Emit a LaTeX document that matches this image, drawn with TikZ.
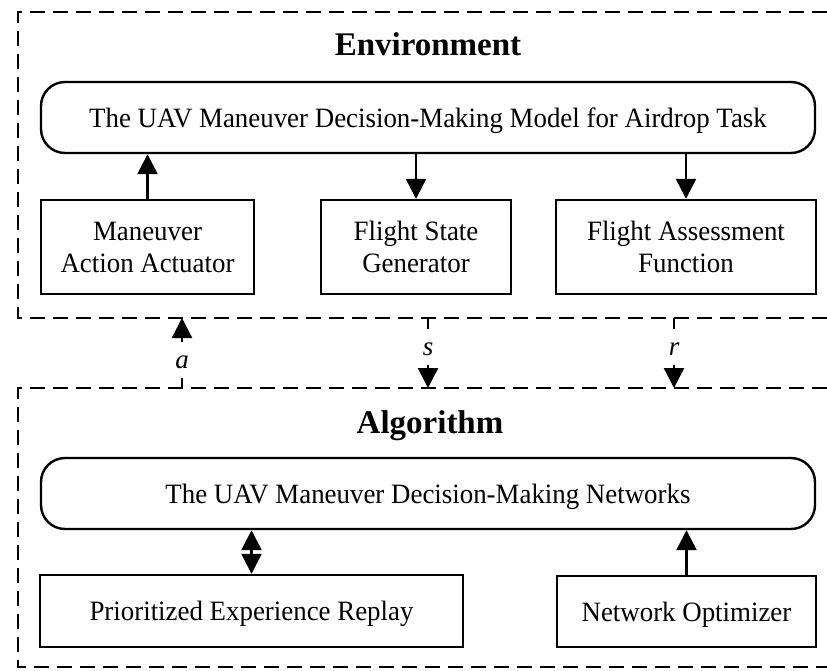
\documentclass[tikz,border=0pt]{standalone}
\usepackage{fontspec}
\setmainfont{Liberation Serif}
\newfontfamily\bodyfont[FakeStretch=0.96]{Liberation Serif}
\usetikzlibrary{arrows.meta}
\begin{document}
\begin{tikzpicture}[x=1pt,y=-1pt,
  frame/.style={draw, line width=2.4pt, dash pattern=on 15pt off 8pt},
  blk/.style={draw, line width=2.4pt, inner sep=0pt, align=center,
    font=\bodyfont\fontsize{28}{32}\selectfont},
  rblk/.style={blk, rounded corners=24pt, text depth=0pt},
  tip/.tip={Triangle[width=20pt,length=20pt]},
  tri/.style={line width=2.4pt, -tip},
  dtri/.style={line width=2.4pt, tip-tip},
  link/.style={line width=2.4pt},
  title/.style={anchor=base, inner sep=0pt, font=\bfseries\fontsize{33}{40}\selectfont},
  lbl/.style={inner sep=0pt, font=\itshape\fontsize{27}{32}\selectfont}]
\useasboundingbox (0,0) rectangle (827,670);
\clip (0,0) rectangle (827,670);

% dashed frames of the two layers
\draw[frame] (850,12) -- (18,12) -- (18,318) -- (850,318);
\draw[frame] (850,388) -- (18,388) -- (18,667) -- (850,667);
\coordinate (envS) at (0,318);
\coordinate (algN) at (0,388);

% environment layer
\node[title] (envt) at (428,55) {Environment};
\node[rblk, minimum width=774pt, minimum height=71pt] (model) at (428,117.5)
  {The UAV Maneuver Decision-Making Model for Airdrop Task};
\node[blk, minimum width=213pt, minimum height=94pt] (maa) at (147.5,247)
  {Maneuver\\Action Actuator};
\node[blk, minimum width=190pt, minimum height=94pt] (fsg) at (416,247)
  {Flight State\\Generator};
\node[blk, minimum width=260pt, minimum height=94pt] (faf) at (686,247)
  {Flight Assessment\\Function};

\draw[tri] (maa.north) -- (maa.north |- model.south);
\draw[tri] (model.south -| fsg) -- (fsg.north);
\draw[tri] (model.south -| faf) -- (faf.north);

% algorithm layer
\node[title] (algt) at (430,433) {Algorithm};
\node[rblk, minimum width=774pt, minimum height=71pt] (nets) at (428,493.5)
  {The UAV Maneuver Decision-Making Networks};
\node[blk, text depth=0pt, minimum width=423pt, minimum height=72pt] (per) at (251.5,611)
  {Prioritized Experience Replay};
\node[blk, text depth=0pt, minimum width=259pt, minimum height=71pt] (nopt) at (686.5,611.5)
  {Network Optimizer};

\draw[dtri] (per.north) -- (per.north |- nets.south);
\draw[tri] (nopt.north) -- (nopt.north |- nets.south);

% signals exchanged between the layers
\node[lbl] (la) at (182,362) {a};
\node[lbl] (ls) at (428,349) {s};
\node[lbl] (lr) at (674,349) {r};

\draw[link, shorten >=9pt] (la |- algN) -- (la.south);
\draw[tri, shorten <=13pt] (la.north) -- (la |- envS);
\draw[link, shorten >=13pt] (ls |- envS) -- (ls.north);
\draw[tri, shorten <=9pt] (ls.south) -- (ls |- algN);
\draw[link, shorten >=13pt] (lr |- envS) -- (lr.north);
\draw[tri, shorten <=9pt] (lr.south) -- (lr |- algN);
\end{tikzpicture}
\end{document}
